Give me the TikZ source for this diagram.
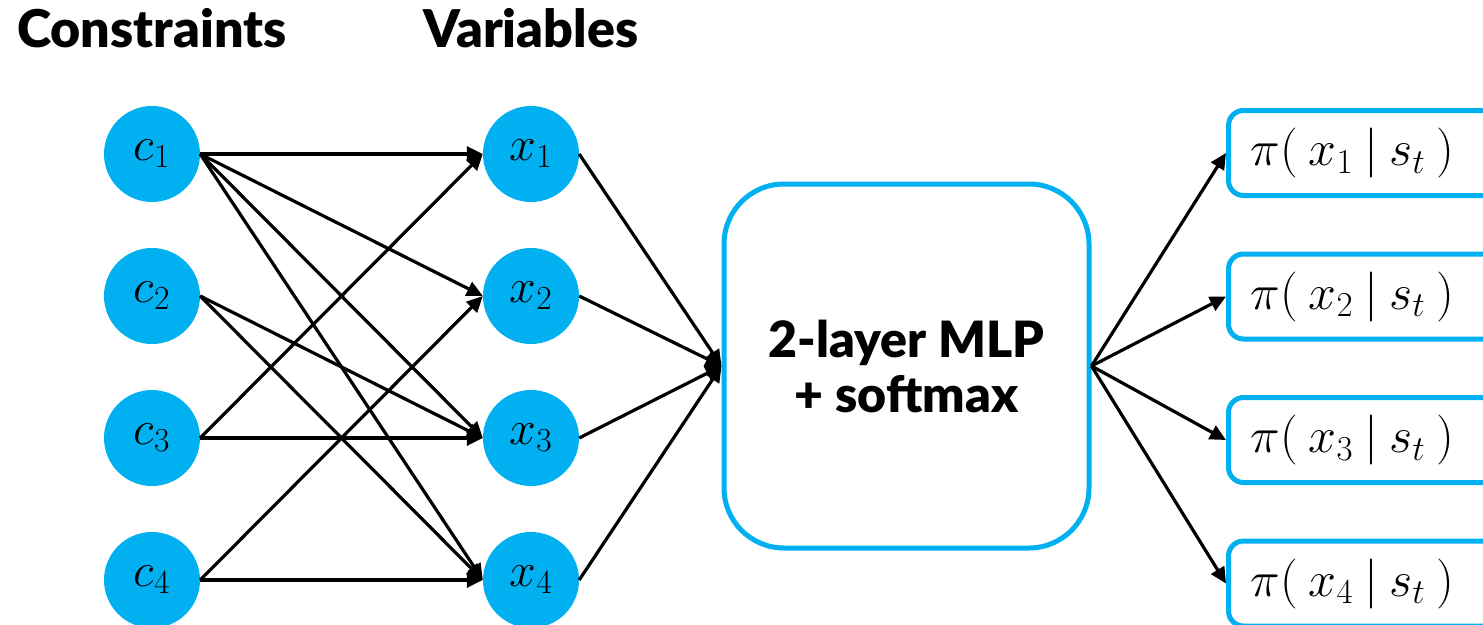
\RequirePackage{fix-cm}
\documentclass[tikz,border=0pt]{standalone}
\usepackage{fontspec}
\newfontfamily\headfont{Lato Black}
\usetikzlibrary{arrows.meta}
\definecolor{nodeblue}{RGB}{0,176,240}
\begin{document}
\begin{tikzpicture}[x=1pt,y=-1pt,
  var/.style={circle,fill=nodeblue,minimum size=96pt,inner sep=0pt,
    font=\fontsize{48}{50}\selectfont},
  arr/.style={line width=3.2pt,-{Triangle[length=16pt,width=15pt]}},
  heading/.style={font=\headfont\fontsize{52}{56}\selectfont,
    anchor=base west,inner sep=0pt},
  mlp/.style={draw=nodeblue,line width=5pt,rounded corners=60pt,
    minimum width=365pt,minimum height=364pt,align=center,
    font=\headfont\fontsize{50}{55}\selectfont},
  outbox/.style={draw=nodeblue,line width=5pt,rounded corners=15pt,
    minimum height=85pt,text width=376pt,align=left,inner xsep=22pt,
    inner ysep=0pt,anchor=west,font=\fontsize{50}{52}\selectfont}]
\useasboundingbox (0,0) rectangle (1483,624);

% column headings
\node[heading] (hc) at (17,47) {Constraints};
\node[heading] (hv) at (423,47) {Variables};

% constraint and variable nodes
\foreach \i/\y in {1/154,2/296,3/438,4/580}{
  \node[var] (c\i) at (152,\y) {$c_{\i}$};
  \node[var] (x\i) at (531,\y) {$x_{\i}$};
}

% policy network
\node[mlp] (net) at (906.5,366) {2-layer MLP\\+ softmax};

% output probabilities
\foreach \i/\y in {1/153,2/296.5,3/440,4/583.5}{
  \node[outbox] (p\i) at (1226,\y) {$\pi(\:x_{\i}\:|\:s_t\:)$};
}

% constraint -> variable edges
\draw[arr] (c1.east) -- (x1.west);
\draw[arr] (c1.east) -- (x2.west);
\draw[arr] (c1.east) -- (x3.west);
\draw[arr] (c1.east) -- (x4.west);
\draw[arr] (c2.east) -- (x3.west);
\draw[arr] (c2.east) -- (x4.west);
\draw[arr] (c3.east) -- (x1.west);
\draw[arr] (c3.east) -- (x3.west);
\draw[arr] (c4.east) -- (x2.west);
\draw[arr] (c4.east) -- (x4.west);

% variables -> network -> outputs
\foreach \i in {1,2,3,4}{
  \draw[arr] (x\i.east) -- (net.west);
  \draw[arr] (net.east) -- (p\i.west);
}
\end{tikzpicture}
\end{document}
